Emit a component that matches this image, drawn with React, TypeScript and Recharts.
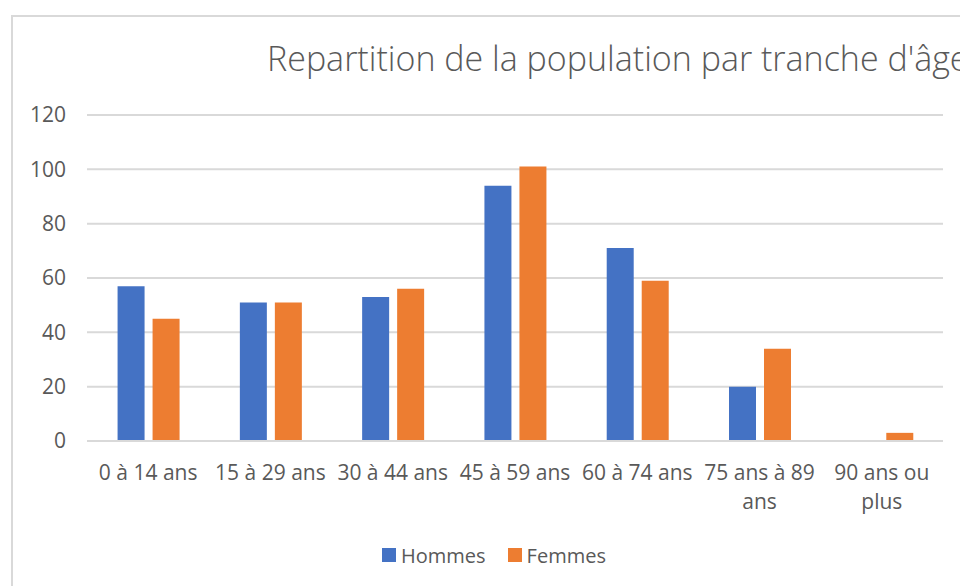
import React from "react";
import { BarChart, Bar, XAxis, YAxis, CartesianGrid } from "recharts";

const categories = ["0 à 14 ans", "15 à 29 ans", "30 à 44 ans", "45 à 59 ans", "60 à 74 ans", "75 ans à 89 ans", "90 ans ou plus"];
const hommes = [57, 51, 53, 94, 71, 20, 0];
const femmes = [45, 51, 56, 101, 59, 34, 3];
const yTicks = [0, 20, 40, 60, 80, 100, 120];
const seriesNames = ["Hommes", "Femmes"];
const seriesColors = ["#4472C4", "#ED7D31"];
const title = "Repartition de la population par tranche d'âge";

const data = categories.map((c, i) => ({ name: c, Hommes: hommes[i], Femmes: femmes[i] }));

const FONT = '"Open Sans", sans-serif';
const TEXT_COLOR = "#595959";
const LABEL_SIZE = 21;

let ctx: CanvasRenderingContext2D | null = null;
function measure(s: string): number {
  if (!ctx) {
    const c = document.createElement("canvas");
    ctx = c.getContext("2d");
  }
  if (!ctx) return s.length * LABEL_SIZE * 0.5;
  ctx.font = `${LABEL_SIZE}px "Open Sans"`;
  return ctx.measureText(s).width;
}

function wrap(label: string, maxWidth: number): string[] {
  const words = label.split(" ");
  const lines: string[] = [];
  let cur = "";
  for (const w of words) {
    const next = cur ? cur + " " + w : w;
    if (cur && measure(next) > maxWidth) {
      lines.push(cur);
      cur = w;
    } else {
      cur = next;
    }
  }
  if (cur) lines.push(cur);
  return lines;
}

const XTick = (props: any) => {
  const { x, y, payload } = props;
  const lines = wrap(String(payload.value), 120);
  return (
    <text x={x} y={y} textAnchor="middle" fill={TEXT_COLOR} style={{ fontSize: LABEL_SIZE, fontFamily: FONT }}>
      {lines.map((l, i) => (
        <tspan key={i} x={x} dy={i === 0 ? 14 : 29}>
          {l}
        </tspan>
      ))}
    </text>
  );
};

export default function App() {
  return (
    <div style={{ position: "fixed", left: 0, top: 0, width: 960, height: 586, overflow: "hidden", background: "#fff" }}>
      <div style={{ position: "absolute", left: 11, top: 15, width: 1100, height: 700, border: "2px solid #d9d9d9", boxSizing: "border-box" }} />
      <svg style={{ position: "absolute", left: 0, top: 0 }} width={960} height={100}>
        <text x={267} y={71} fill={TEXT_COLOR} style={{ fontSize: 34, fontFamily: FONT, fontWeight: 300 }}>
          {title}
        </text>
      </svg>
      <div style={{ position: "absolute", left: 0, top: 0 }}>
        <BarChart
          width={960}
          height={586}
          data={data}
          margin={{ top: 115, right: 17, bottom: 115, left: 0 }}
          barCategoryGap="25%"
          barGap={8}
        >
          <CartesianGrid vertical={false} stroke="#d9d9d9" strokeWidth={2} />
          <XAxis
            dataKey="name"
            height={30}
            interval={0}
            tickLine={false}
            tickSize={0}
            tickMargin={25}
            axisLine={{ stroke: "#d9d9d9", strokeWidth: 2 }}
            tick={<XTick />}
          />
          <YAxis
            width={87}
            domain={[0, 120]}
            ticks={yTicks}
            axisLine={false}
            tickLine={false}
            tickSize={0}
            tickMargin={21}
            tick={{ fill: TEXT_COLOR, fontSize: 21, fontFamily: FONT }}
          />
          <Bar dataKey="Hommes" fill={seriesColors[0]} isAnimationActive={false} />
          <Bar dataKey="Femmes" fill={seriesColors[1]} isAnimationActive={false} />
        </BarChart>
      </div>
      <div
        style={{
          position: "absolute",
          top: 541,
          left: 382,
          display: "flex",
          alignItems: "center",
          height: 28,
          fontFamily: FONT,
          fontSize: 20,
          color: TEXT_COLOR,
          whiteSpace: "nowrap",
        }}
      >
        {seriesNames.map((n, i) => (
          <div key={n} style={{ display: "flex", alignItems: "center", marginRight: 22 }}>
            <span style={{ display: "inline-block", width: 14, height: 14, background: seriesColors[i], marginRight: 5 }} />
            <span>{n}</span>
          </div>
        ))}
      </div>
    </div>
  );
}
